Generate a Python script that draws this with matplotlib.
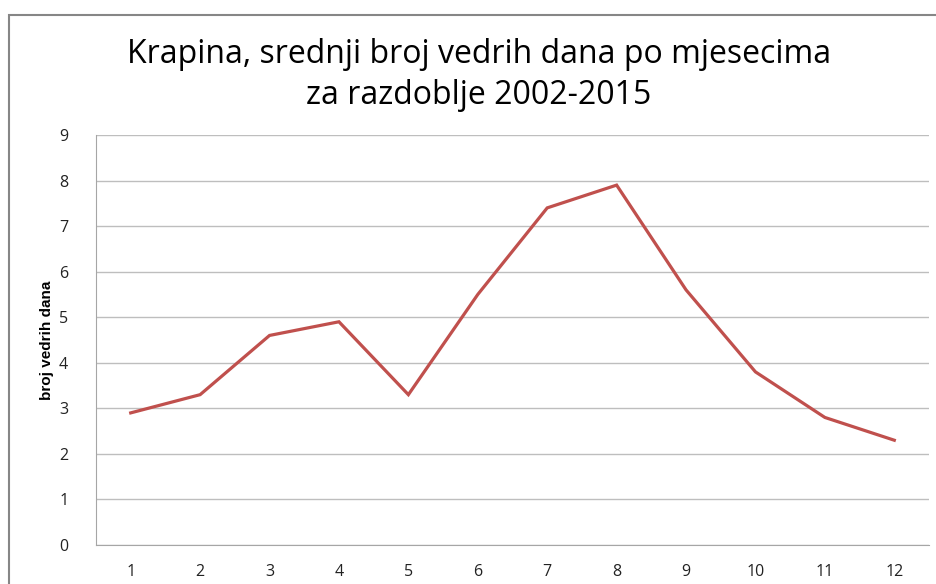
import matplotlib
matplotlib.use("Agg")
import matplotlib.pyplot as plt
from matplotlib.patches import Rectangle

# average number of clear days per month, Krapina 2002-2015
months = [1, 2, 3, 4, 5, 6, 7, 8, 9, 10, 11, 12]
clear_days = [2.9, 3.3, 4.6, 4.9, 3.3, 5.5, 7.4, 7.9, 5.6, 3.8, 2.8, 2.3]
month_labels = [str(m) for m in months]

plt.rcParams['font.family'] = ['Open Sans', 'DejaVu Sans']

fig = plt.figure(figsize=(9.37, 5.84), dpi=100)
W, H = 937, 584

# chart border (runs off the right and bottom edges)
fig.patches.append(Rectangle((9 / W, -0.1), 1.2, (H - 15) / H + 0.1,
                             transform=fig.transFigure, fill=False,
                             edgecolor='#868686', linewidth=1.5))

ax = fig.add_axes([96 / W, (H - 545) / H, (929 - 96) / W, (545 - 135) / H])
ax.plot(months, clear_days, color='#C0504D', linewidth=2.3, solid_joinstyle='miter')

ax.set_xlim(0.5, 12.5)
ax.set_ylim(0, 9)
ax.set_yticks(range(0, 10))
ax.set_xticks(months)
ax.set_xticklabels(month_labels)
ax.grid(axis='y', color='#BEBEBE', linewidth=1)
ax.set_axisbelow(True)
ax.tick_params(length=0, labelsize=11.5, colors='#222222', pad=14)
ax.tick_params(axis='y', pad=20)
for s in ['top', 'right']:
    ax.spines[s].set_visible(False)
for s in ['left', 'bottom']:
    ax.spines[s].set_color('#A6A6A6')

ax.set_ylabel('broj vedrih dana', fontsize=11, fontweight='bold', labelpad=4,
              family=['Liberation Sans Narrow', 'Liberation Sans', 'DejaVu Sans'])

fig.text(479 / W, 1 - 75 / H, 'Krapina, srednji broj vedrih dana po mjesecima\nza razdoblje 2002-2015',
         ha='center', va='center', fontsize=23, linespacing=1.3)

fig.savefig('out.png', dpi=100)
